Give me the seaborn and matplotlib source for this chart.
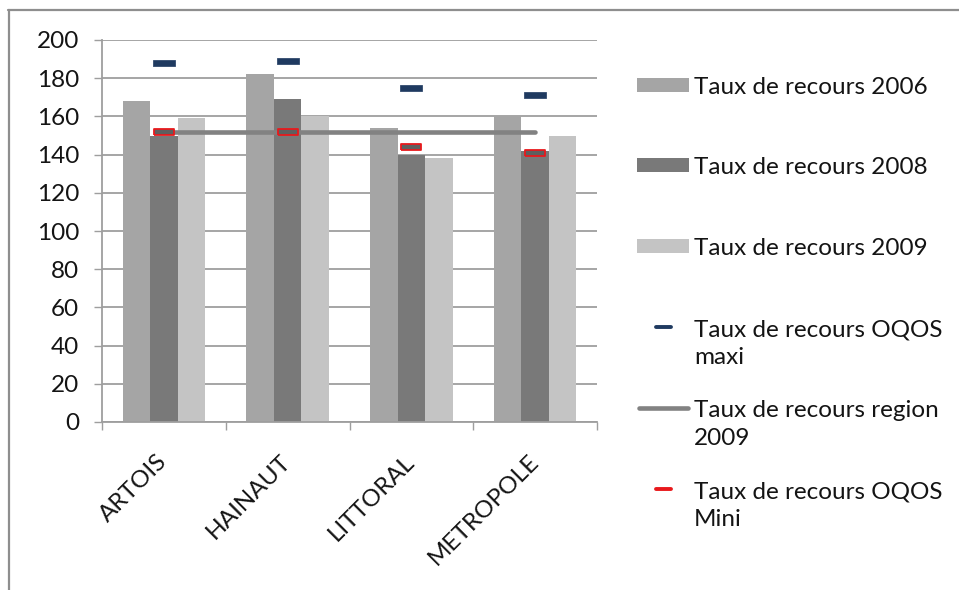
import matplotlib
matplotlib.use("Agg")
import matplotlib.pyplot as plt
from matplotlib.patches import Rectangle
from matplotlib.lines import Line2D
import numpy as np
import pandas as pd
import seaborn as sns

# Data
categories = ["ARTOIS", "HAINAUT", "LITTORAL", "METROPOLE"]
taux_2006 = [168, 182, 154, 160]
taux_2008 = [150, 169, 140, 142]
taux_2009 = [159, 160, 138, 150]
oqos_maxi = [188, 189, 175, 171]
region_2009 = [152, 152, 152, 152]
oqos_mini = [152, 152, 144, 141]
yticks = [0, 20, 40, 60, 80, 100, 120, 140, 160, 180, 200]

bar_labels = ["Taux de recours 2006", "Taux de recours 2008", "Taux de recours 2009"]
bar_colors = ["#A5A5A5", "#797979", "#C4C4C4"]

df = pd.DataFrame({
    "cat": categories * 3,
    "val": taux_2006 + taux_2008 + taux_2009,
    "serie": [bar_labels[0]] * 4 + [bar_labels[1]] * 4 + [bar_labels[2]] * 4,
})

sns.set_theme(style="white")
plt.rcParams["font.family"] = ["Lato", "DejaVu Sans"]
TXT = "#141414"
GRID = "#9E9E9E"
FS = 17.5

W, H = 959, 590
fig = plt.figure(figsize=(W / 100, H / 100), dpi=100)
fig.patch.set_facecolor("white")

def fx(px):
    return px / W

def fy(py):
    return 1 - py / H

ax = fig.add_axes([fx(102), fy(422), fx(597) - fx(102), fy(40) - fy(422)])

sns.barplot(data=df, x="cat", y="val", hue="serie", hue_order=bar_labels,
            palette=bar_colors, width=0.665, gap=0, saturation=1,
            edgecolor="none", linewidth=0, legend=False, ax=ax, zorder=2)

xpos = np.arange(len(categories))

# Regional rate line
ax.plot(xpos, region_2009, color="#828282", lw=3.3, solid_capstyle="round", zorder=4)

# OQOS markers
dash_maxi = [(-1, -0.22), (1, -0.22), (1, 0.22), (-1, 0.22), (-1, -0.22)]
dash_mini = [(-1, -0.28), (1, -0.28), (1, 0.28), (-1, 0.28), (-1, -0.28)]
ax.plot(xpos, oqos_maxi, ls="none", marker=dash_maxi, markersize=16.5,
        markerfacecolor="#1F3A60", markeredgecolor="#1F3A60", markeredgewidth=0.5, zorder=6)
ax.plot(xpos, oqos_mini, ls="none", marker=dash_mini, markersize=14.5,
        markerfacecolor="#5F5F5F", markeredgecolor="#E8191C", markeredgewidth=1.3, zorder=6)

ax.set_xlim(-0.5, len(categories) - 0.5)
ax.set_ylim(0, 200)
ax.set_yticks(yticks)
ax.set_yticklabels([str(v) for v in yticks], fontsize=FS, color=TXT)
ax.yaxis.grid(True, color=GRID, lw=1.3, zorder=0)
ax.set_axisbelow(True)
ax.set_xlabel("")
ax.set_ylabel("")

for s in ["top", "right"]:
    ax.spines[s].set_visible(False)
for s in ["left", "bottom"]:
    ax.spines[s].set_color(GRID)
    ax.spines[s].set_linewidth(1.3)

ax.tick_params(axis="y", direction="out", length=5.5, width=1.0, color=GRID, pad=11, left=True)
ax.set_xticks(xpos)
ax.set_xticklabels(categories, rotation=45, ha="right", rotation_mode="anchor",
                   fontsize=FS, color=TXT)
ax.tick_params(axis="x", which="major", length=0, pad=26, bottom=True)
ax.set_xticks(np.arange(-0.5, len(categories)), minor=True)
ax.tick_params(axis="x", which="minor", direction="out", length=6, width=1.0, color=GRID, bottom=True)
for lab in ax.get_xticklabels():
    lab.set_verticalalignment("center")

# Legend drawn on the figure
entries = [
    ("bar", bar_colors[0], 85, "Taux de recours 2006"),
    ("bar", bar_colors[1], 165, "Taux de recours 2008"),
    ("bar", bar_colors[2], 246, "Taux de recours 2009"),
    ("maxi", "#1F3A60", 327, "Taux de recours OQOS\nmaxi"),
    ("line", "#828282", 408, "Taux de recours region\n2009"),
    ("mini", "#E8191C", 489, "Taux de recours OQOS\nMini"),
]
for kind, col, yy, label in entries:
    if kind == "bar":
        fig.patches.append(Rectangle((fx(637), fy(yy + 7)), fx(52), 14 / H,
                                     transform=fig.transFigure, facecolor=col,
                                     edgecolor="none", figure=fig))
    elif kind == "line":
        fig.add_artist(Line2D([fx(639), fx(688)], [fy(yy), fy(yy)], color=col, lw=3.3,
                              solid_capstyle="round", transform=fig.transFigure))
    else:
        fig.add_artist(Line2D([fx(656), fx(671)], [fy(yy), fy(yy)], color=col, lw=2.8,
                              transform=fig.transFigure))
    fig.text(fx(694), fy(yy - 8), label, ha="left", va="top", fontsize=FS,
             color=TXT, linespacing=1.4)

# Outer frame (top and left edges)
fig.add_artist(Line2D([fx(8), 1], [fy(10), fy(10)], color="#8E8E8E", lw=1.6,
                      transform=fig.transFigure))
fig.add_artist(Line2D([fx(9), fx(9)], [fy(10), 0], color="#8E8E8E", lw=1.6,
                      transform=fig.transFigure))

fig.savefig("out.png", dpi=100, facecolor="white")
